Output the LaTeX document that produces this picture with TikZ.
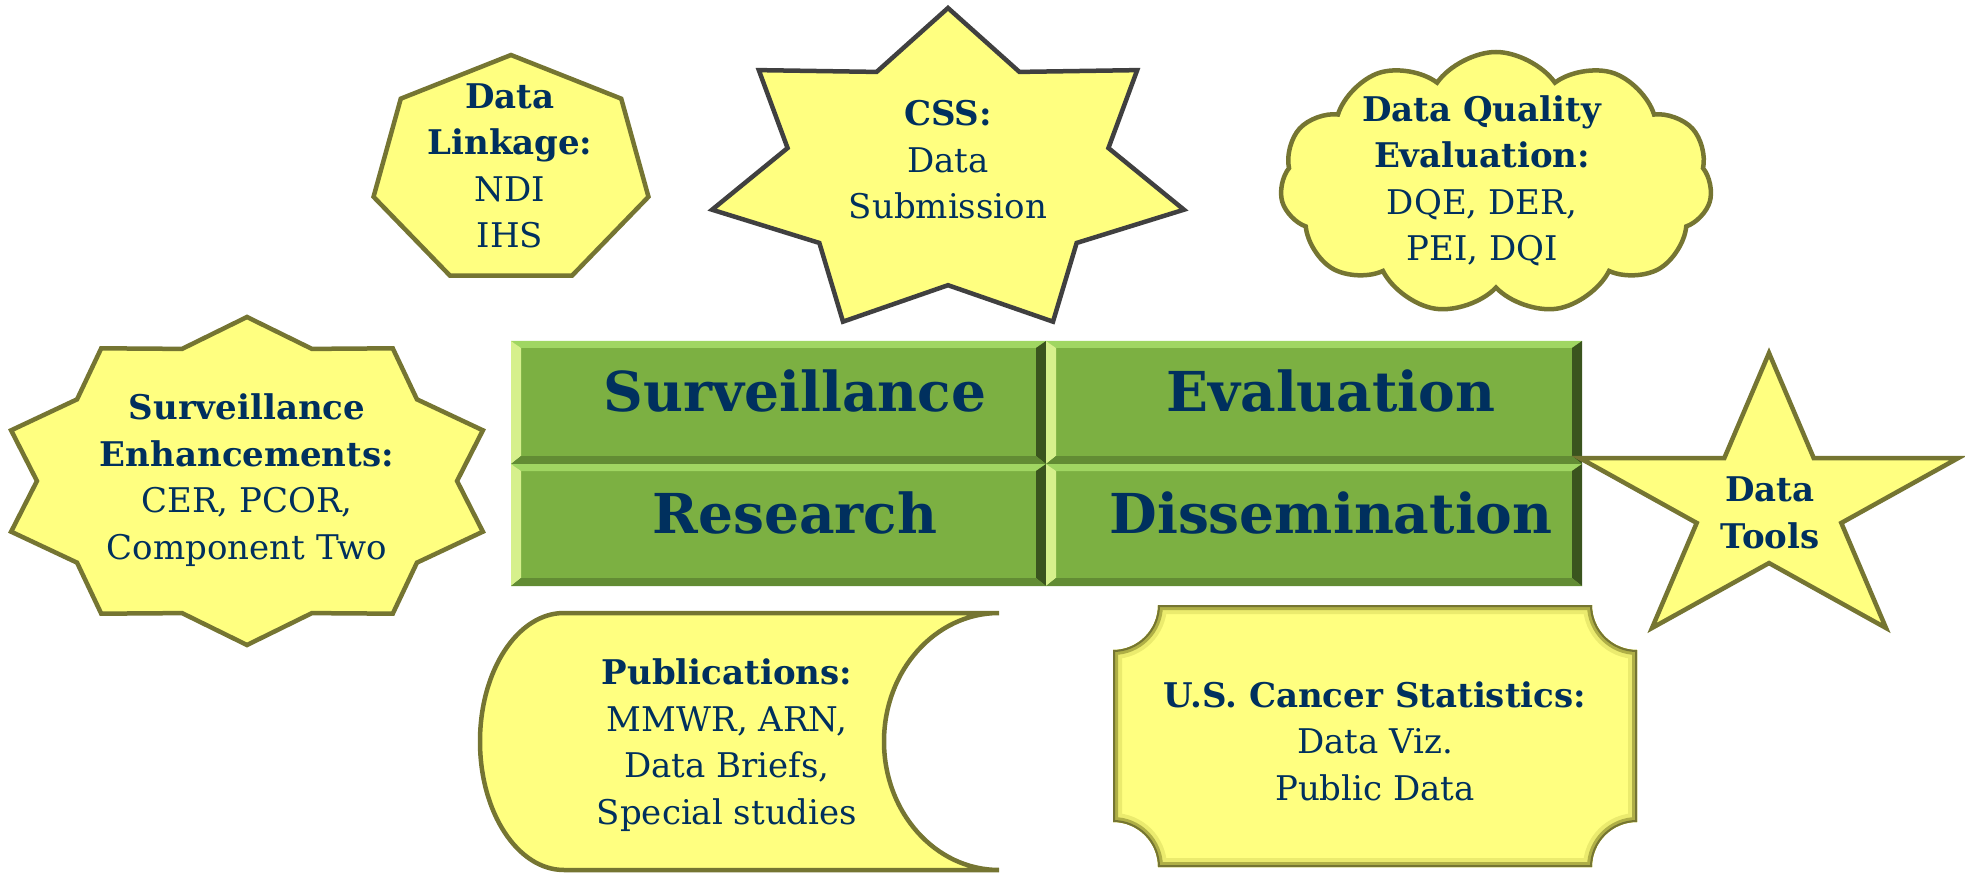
\documentclass[tikz,border=0pt]{standalone}
\usepackage{fontspec}
\setmainfont{DejaVu Serif}
\usetikzlibrary{shapes.symbols}

\definecolor{shapeyellow}{RGB}{255,255,128}
\definecolor{shapeolive}{RGB}{117,117,50}
\definecolor{stargray}{RGB}{64,64,64}
\definecolor{navytext}{RGB}{0,48,94}
\definecolor{gridgreen}{RGB}{124,176,66}
\definecolor{gridtop}{RGB}{160,214,98}
\definecolor{gridleft}{RGB}{214,240,140}
\definecolor{gridright}{RGB}{58,84,30}
\definecolor{gridbottom}{RGB}{98,140,52}
\definecolor{bevellight}{RGB}{235,235,110}
\definecolor{bevelmid}{RGB}{175,175,70}

\tikzset{
  yellowshape/.style={fill=shapeyellow, draw=shapeolive, line width=4.5pt, line join=miter},
  shapetext/.style={text=navytext, align=center, inner sep=0pt, font=\fontsize{34}{46.5}\selectfont},
  gridtext/.style={text=navytext, inner sep=0pt, font=\fontsize{55}{62}\selectfont\bfseries},
}

% outline of the plaque with hollow corners
\newcommand{\plaquepath}{(1158,605) -- (1592,605) arc[start angle=180,end angle=90,radius=45]
  -- (1637,822) arc[start angle=270,end angle=180,radius=45]
  -- (1158,867) arc[start angle=0,end angle=-90,radius=45]
  -- (1113,650) arc[start angle=90,end angle=0,radius=45] -- cycle}

\begin{document}
\begin{tikzpicture}[x=1pt, y=-1pt]
    \useasboundingbox (0,0) rectangle (1965,874);

    % Green blocks with bevel
    \foreach \xa/\ya/\xb/\yb in {511/341/1046/464, 1046/341/1582/464, 511/464/1046/586, 1046/464/1582/586}{
        \fill[gridgreen] (\xa,\ya) rectangle (\xb,\yb);
        \fill[gridtop] (\xa,\ya) -- (\xb,\ya) -- ({\xb-10},{\ya+7}) -- ({\xa+10},{\ya+7}) -- cycle;
        \fill[gridleft] (\xa,\ya) -- ({\xa+10},{\ya+7}) -- ({\xa+10},{\yb-8}) -- (\xa,\yb) -- cycle;
        \fill[gridright] (\xb,\ya) -- ({\xb-10},{\ya+7}) -- ({\xb-10},{\yb-8}) -- (\xb,\yb) -- cycle;
        \fill[gridbottom] (\xa,\yb) -- ({\xa+10},{\yb-8}) -- ({\xb-10},{\yb-8}) -- (\xb,\yb) -- cycle;
    }
    \node[gridtext] (survtext) at (795,391) {Surveillance};
    \node[gridtext] (evaltext) at (1331,391) {Evaluation};
    \node[gridtext] (restext) at (795,513) {Research};
    \node[gridtext] (disstext) at (1331,513) {Dissemination};

    % Shapes
    \draw[yellowshape] plot[samples at={0,...,6}, variable=\k]
        ({511+141*cos(-90+\k*360/7)}, {171+116*sin(-90+\k*360/7)}) -- cycle; % Data Linkage
    \draw[yellowshape, draw=stargray] plot[samples at={0,...,13}, variable=\k]
        ({948+242*(1-0.32*mod(\k,2))*cos(-90+\k*360/14)}, {173+165*(1-0.32*mod(\k,2))*sin(-90+\k*360/14)}) -- cycle; % CSS
    \node[cloud, cloud puffs=11, cloud puff arc=110, aspect=1.7, minimum width=432pt, minimum height=262pt, yellowshape] (dqecloud) at (1496,183) {}; % Data Quality
    \draw[yellowshape] plot[samples at={0,...,19}, variable=\k]
        ({247+248*(1-0.153*mod(\k,2))*cos(-90+\k*18)}, {481+164*(1-0.153*mod(\k,2))*sin(-90+\k*18)}) -- cycle; % Enhancements
    \draw[yellowshape] plot[samples at={0,...,9}, variable=\k]
        ({1769+199*(1-0.618*mod(\k,2))*cos(-90+\k*36)}, {505+152*(1-0.618*mod(\k,2))*sin(-90+\k*36)}) -- cycle; % Data Tools
    \draw[yellowshape] (564,613) -- (999,613) arc[start angle=-90,end angle=-270,x radius=115,y radius=128.5]
        -- (564,870) arc[start angle=90,end angle=270,x radius=84,y radius=128.5] -- cycle; % Publications
    \fill[shapeyellow] \plaquepath; % U.S. Cancer Statistics
    \begin{scope}
        \clip \plaquepath;
        \draw[bevellight, line width=18pt] \plaquepath;
        \draw[bevelmid, line width=10pt] \plaquepath;
        \draw[shapeolive, line width=4pt] \plaquepath;
    \end{scope}

    % Labels
    \node[shapetext] (linkagetext) at (510,166) {\textbf{Data}\\\textbf{Linkage:}\\NDI\\IHS};
    \node[shapetext] (csstext) at (948,160) {\textbf{CSS:}\\Data\\Submission};
    \node[shapetext] (dqetext) at (1482,181) {\textbf{Data Quality}\\\textbf{Evaluation:}\\DQE, DER,\\PEI, DQI};
    \node[shapetext] (enhancetext) at (247,480) {\textbf{Surveillance}\\\textbf{Enhancements:}\\CER, PCOR,\\Component Two};
    \node[shapetext] (toolstext) at (1770,513) {\textbf{Data}\\\textbf{Tools}};
    \node[shapetext] (pubtext) at (727,745) {\textbf{Publications:}\\MMWR, ARN,\\Data Briefs,\\Special studies};
    \node[shapetext] (uscstext) at (1375,741) {\textbf{U.S. Cancer Statistics:}\\Data Viz.\\Public Data};
\end{tikzpicture}
\end{document}
